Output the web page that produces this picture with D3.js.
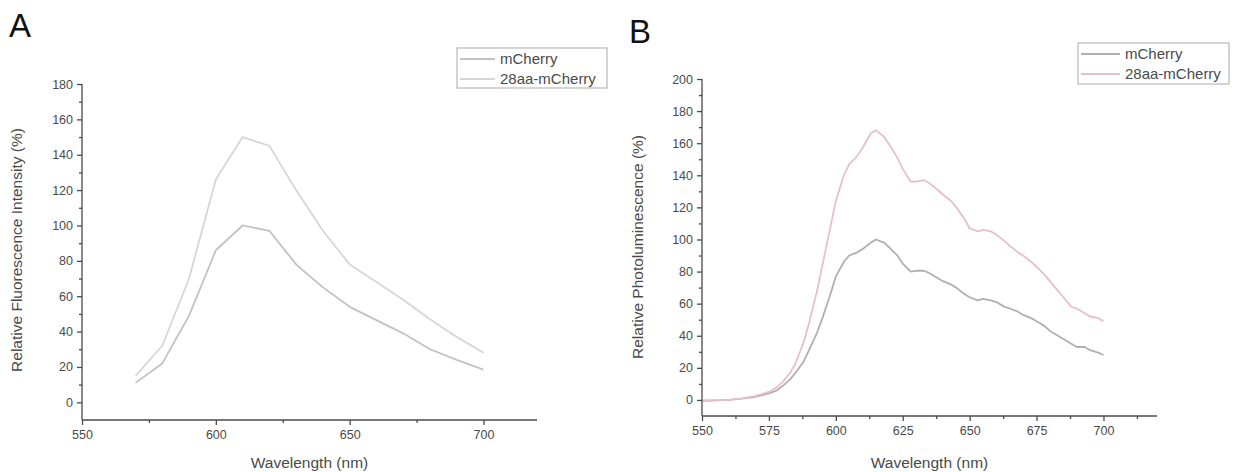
<!DOCTYPE html>
<html>
<head>
<meta charset="utf-8">
<script src="https://cdn.jsdelivr.net/npm/d3@7/dist/d3.min.js"></script>
<style>
  html, body { margin: 0; padding: 0; background: #fff; }
  svg { display: block; font-family: "Liberation Sans", Arial, sans-serif; }
</style>
</head>
<body>
<svg id="chart" width="1240" height="472"></svg>
<script>
// ---------- Data ----------
const seriesNames = ["mCherry", "28aa-mCherry"];

// Panel A: relative fluorescence intensity (%)
const wavelengthA = [570, 580, 590, 600, 610, 620, 630, 640, 650, 660, 670, 680, 690, 700];
const mCherryA    = [11, 22, 49, 86, 100, 97, 78, 65, 54, 46.5, 39, 30, 24, 18.5];
const aa28A       = [15, 32, 70, 126, 150, 145, 120, 97, 78, 68, 58, 47, 37, 28];

// Panel B: relative photoluminescence (%)
const wavelengthB = [550, 555, 560, 565, 570, 575, 578, 580, 583, 585, 588, 590, 593, 595, 598,
  600, 603, 605, 608, 610, 613, 615, 618, 620, 623, 625, 628, 630, 633, 635, 638, 640, 643, 645,
  648, 650, 653, 655, 658, 660, 663, 665, 668, 670, 673, 675, 678, 680, 683, 685, 688, 690, 693,
  695, 698, 700];
const mCherryB = [-0.5, -0.3, 0, 0.8, 2, 4, 6, 8.5, 13, 17, 24, 31, 42, 51, 66,
  77, 86, 90, 92, 94, 98, 100, 98, 95, 90, 85, 80, 80.5, 80.5, 79, 76, 74, 72, 70,
  66, 64, 62, 63, 62, 61, 58, 57, 55, 53, 51, 49, 46, 43, 40, 38, 35, 33, 33,
  31, 29.5, 28];
const aa28B = [-0.5, -0.3, 0, 1, 2.5, 5, 8, 11, 17, 23, 36, 48, 68, 84, 108,
  124, 140, 147, 152, 157, 166, 168, 164, 159, 151, 144, 136, 136, 137, 135, 131, 128, 124, 120,
  113, 107, 105, 106, 105, 103, 99, 96, 92, 90, 86, 83, 78, 74, 68, 64, 58, 57, 54,
  52, 51, 49];

// Axis ticks
const xTicksA = [550, 600, 650, 700];
const xTicksB = [550, 575, 600, 625, 650, 675, 700];
const yTicksA = [0, 20, 40, 60, 80, 100, 120, 140, 160, 180];
const yTicksB = [0, 20, 40, 60, 80, 100, 120, 140, 160, 180, 200];

// ---------- Drawing ----------
const svg = d3.select("#chart");
const axisColor = "#4a4a4a";
const textColor = "#4a4a4a";

function panel(cfg) {
  const g = svg.append("g");
  const x = d3.scaleLinear().domain(cfg.xDomain).range([cfg.left, cfg.right]);
  const y = d3.scaleLinear().domain(cfg.yDomain).range([cfg.bottom, cfg.top]);

  // series lines
  const line = d3.line().x(d => x(d[0])).y(d => y(d[1]));
  cfg.series.forEach(s => {
    g.append("path")
      .datum(cfg.wl.map((w, i) => [w, s.values[i]]))
      .attr("fill", "none")
      .attr("stroke", s.color)
      .attr("stroke-width", 1.8)
      .attr("stroke-linejoin", "round")
      .attr("d", line);
  });

  // x axis
  const xMinor = d3.range(cfg.xDomain[0], cfg.xDomain[1] + 0.001, cfg.xMinorStep);
  const xAxis = d3.axisBottom(x).tickValues(xMinor).tickSize(4)
    .tickFormat(d => cfg.xTicks.includes(d) ? d3.format("d")(d) : "");
  const gx = g.append("g").attr("transform", `translate(0,${cfg.bottom})`).call(xAxis);
  gx.selectAll(".tick line").attr("y2", d => cfg.xMajor.includes(d) ? 5 : 3);
  gx.select(".domain").attr("d", `M${cfg.left},0H${cfg.right}`);
  gx.selectAll("path, line").attr("stroke", axisColor).attr("stroke-width", 1.3);
  gx.selectAll("text").attr("fill", textColor).attr("font-size", 12.5)
    .attr("font-family", "Liberation Sans, Arial, sans-serif").attr("y", 10);

  // y axis
  const yMinor = d3.range(cfg.yTicks[0], cfg.yDomain[1] + 0.001, 10);
  const yAxis = d3.axisLeft(y).tickValues(yMinor).tickSize(4)
    .tickFormat(d => cfg.yTicks.includes(d) ? d3.format("d")(d) : "");
  const gy = g.append("g").attr("transform", `translate(${cfg.left},0)`).call(yAxis);
  gy.selectAll(".tick line").attr("x2", d => cfg.yTicks.includes(d) ? -5 : -3);
  gy.select(".domain").attr("d", `M0,${cfg.top}V${cfg.bottom}`);
  gy.selectAll("path, line").attr("stroke", axisColor).attr("stroke-width", 1.3);
  gy.selectAll("text").attr("fill", textColor).attr("font-size", 12.5)
    .attr("font-family", "Liberation Sans, Arial, sans-serif").attr("x", -9);

  // axis titles
  g.append("text")
    .attr("x", (cfg.left + cfg.right) / 2).attr("y", 468)
    .attr("text-anchor", "middle").attr("fill", textColor)
    .attr("font-size", 15.5).text("Wavelength (nm)");
  g.append("text")
    .attr("transform", `translate(${cfg.yTitleX},${cfg.yTitleY}) rotate(-90)`)
    .attr("text-anchor", "middle").attr("fill", textColor)
    .attr("font-size", 15.5).text(cfg.yTitle);

  // panel letter
  g.append("text").attr("x", cfg.letterX).attr("y", cfg.letterY)
    .attr("font-size", 33).attr("fill", "#111").text(cfg.letter);

  // legend
  const L = cfg.legend;
  g.append("rect").attr("x", L.x).attr("y", L.y).attr("width", L.w).attr("height", L.h)
    .attr("fill", "#fff").attr("stroke", "#b8b8b8").attr("stroke-width", 1.2);
  cfg.series.forEach((s, i) => {
    const ly = L.y + L.rowY[i];
    g.append("line").attr("x1", L.x + 3).attr("x2", L.x + L.lineLen)
      .attr("y1", ly).attr("y2", ly).attr("stroke", s.color).attr("stroke-width", 1.8);
    g.append("text").attr("x", L.x + L.lineLen + 5).attr("y", ly + 5)
      .attr("fill", textColor).attr("font-size", 15).text(seriesNames[i]);
  });
}

panel({
  letter: "A", letterX: 9, letterY: 37,
  left: 82, right: 537, top: 84, bottom: 420,
  xDomain: [550, 720], yDomain: [-10, 180],
  xTicks: xTicksA, xMajor: xTicksA, xMinorStep: 25, yTicks: yTicksA,
  wl: wavelengthA,
  series: [
    { values: mCherryA, color: "#c2c2c2" },
    { values: aa28A, color: "#d6d6d6" }
  ],
  yTitle: "Relative Fluorescence Intensity (%)", yTitleX: 22, yTitleY: 250,
  legend: { x: 457, y: 48, w: 150, h: 40, rowY: [11, 31], lineLen: 38 }
});

panel({
  letter: "B", letterX: 629, letterY: 43,
  left: 702, right: 1157, top: 79, bottom: 416,
  xDomain: [550, 720], yDomain: [-10, 200],
  xTicks: xTicksB, xMajor: xTicksB, xMinorStep: 12.5, yTicks: yTicksB,
  wl: wavelengthB,
  series: [
    { values: mCherryB, color: "#b0b0b0" },
    { values: aa28B, color: "#e6c0c8" }
  ],
  yTitle: "Relative Photoluminescence (%)", yTitleX: 643, yTitleY: 247,
  legend: { x: 1078, y: 43, w: 151, h: 41, rowY: [11, 31], lineLen: 42 }
});
</script>
</body>
</html>
